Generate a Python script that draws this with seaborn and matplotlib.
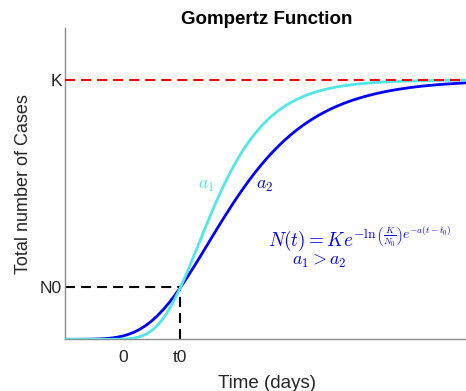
import matplotlib
matplotlib.use("Agg")
import matplotlib.pyplot as plt
import pandas as pd
import seaborn as sns

# Time axis (days): half-day steps through the rise, whole days afterwards
t_days = [-5, -4.5, -4, -3.5, -3, -2.5, -2, -1.5, -1, -0.5,
          0, 0.5, 1, 1.5, 2, 2.5, 3, 3.5, 4, 4.5,
          5, 5.5, 6, 6.5, 7, 7.5, 8, 8.5, 9, 9.5,
          10, 10.5, 11, 11.5, 12, 12.5, 13, 13.5, 14, 14.5,
          15, 15.5, 16, 16.5, 17, 17.5, 18, 18.5, 19, 19.5,
          20, 21, 22, 23, 24, 25, 26, 27, 28, 29, 30]

# Faster growth rate a1
n_fast = [0.0, 0.0, 0.0, 0.0, 0.0, 0.0, 0.0, 0.0, 0.01, 0.02,
          0.07, 0.20, 0.48, 1.01, 1.91, 3.31, 5.32, 8.01, 11.39, 15.41,
          20.0, 25.03, 30.35, 35.84, 41.34, 46.76, 51.98, 56.94, 61.58, 65.89,
          69.83, 73.42, 76.64, 79.53, 82.11, 84.40, 86.42, 88.19, 89.75, 91.11,
          92.30, 93.33, 94.24, 95.02, 95.70, 96.28, 96.79, 97.24, 97.62, 97.94,
          98.23, 98.68, 99.02, 99.28, 99.46, 99.60, 99.70, 99.78, 99.84, 99.88, 99.91]

# Slower growth rate a2
n_slow = [0.0, 0.0, 0.01, 0.02, 0.04, 0.07, 0.15, 0.27, 0.48, 0.79,
          1.26, 1.91, 2.78, 3.91, 5.32, 7.04, 9.06, 11.39, 14.00, 16.89,
          20.0, 23.31, 26.77, 30.35, 34.00, 37.68, 41.34, 44.97, 48.52, 51.98,
          55.32, 58.52, 61.58, 64.49, 67.24, 69.83, 72.25, 74.53, 76.64, 78.61,
          80.43, 82.11, 83.67, 85.09, 86.42, 87.62, 88.74, 89.75, 90.68, 91.52,
          92.30, 93.65, 94.77, 95.70, 96.46, 97.10, 97.62, 98.04, 98.39, 98.68, 98.92]

# Reference levels and axis setup
K = 100
N0 = 20
t0 = 5
x_limits = [-5, 30]
y_limits = [0, 120]
x_tick_values = [0, t0]
x_tick_labels = ["0", "t0"]
y_tick_values = [N0, K]
y_tick_labels = ["N0", "K"]

df = pd.DataFrame({
    "t": t_days * 2,
    "N": n_slow + n_fast,
    "curve": ["a2"] * len(t_days) + ["a1"] * len(t_days),
})

sns.set_theme(style="white")
plt.rcParams["font.family"] = ["Liberation Sans", "DejaVu Sans"]
plt.rcParams["mathtext.fontset"] = "cm"

CYAN = "#52e8e8"
BLUE = "#0000ff"
TEXT = "#262626"

fig = plt.figure(figsize=(4.66, 3.91), dpi=100)
ax = fig.add_axes([65 / 466, 51.7 / 391, 404 / 466, 311.3 / 391])

sns.lineplot(data=df[df.curve == "a2"], x="t", y="N", color=BLUE,
             linewidth=2.0, ax=ax, zorder=3)
sns.lineplot(data=df[df.curve == "a1"], x="t", y="N", color=CYAN,
             linewidth=2.0, ax=ax, zorder=4)

dash = (4.8, 2.9)
ax.plot(x_limits, [K, K], color="red", linewidth=1.5, dashes=dash, zorder=5)
ax.plot([x_limits[0], t0], [N0, N0], color="black", linewidth=1.5,
        dashes=dash, zorder=2)
ax.plot([t0, t0], [y_limits[0], N0], color="black", linewidth=1.5,
        dashes=dash, zorder=2)

ax.set_xlim(x_limits)
ax.set_ylim(y_limits)
ax.set_xticks(x_tick_values)
ax.set_xticklabels(x_tick_labels)
ax.set_yticks(y_tick_values)
ax.set_yticklabels(y_tick_labels)
ax.tick_params(axis="both", length=0, labelsize=12.5, colors=TEXT)
ax.tick_params(axis="x", pad=8)
ax.tick_params(axis="y", pad=2)

for side in ("top", "right"):
    ax.spines[side].set_visible(False)
for side in ("left", "bottom"):
    ax.spines[side].set_color("#8c8c8c")
    ax.spines[side].set_linewidth(1.0)

ax.set_xlabel("Time (days)", fontsize=13.5, color=TEXT, labelpad=7)
ax.set_ylabel("Total number of Cases", fontsize=13, color=TEXT, labelpad=6)
ax.set_title("Gompertz Function", fontsize=13.5, fontweight="bold",
             color="black", pad=3)

ax.text(0.349, 0.4925, r"$a_1$", color=CYAN, fontsize=13,
        ha="center", va="center", transform=ax.transAxes)
ax.text(0.495, 0.4925, r"$a_2$", color=BLUE, fontsize=13,
        ha="center", va="center", transform=ax.transAxes)
ax.text(0.502, 0.300,
        r"$N(t) = Ke^{-\ln\left(\frac{K}{N_0}\right)e^{-a(t-t_0)}}$",
        color=BLUE, fontsize=13.8, ha="left", va="baseline",
        transform=ax.transAxes)
ax.text(0.562, 0.239, r"$a_1 > a_2$", color=BLUE, fontsize=13,
        ha="left", va="baseline", transform=ax.transAxes)

if ax.get_legend() is not None:
    ax.get_legend().remove()

fig.savefig("out.png", dpi=100)
